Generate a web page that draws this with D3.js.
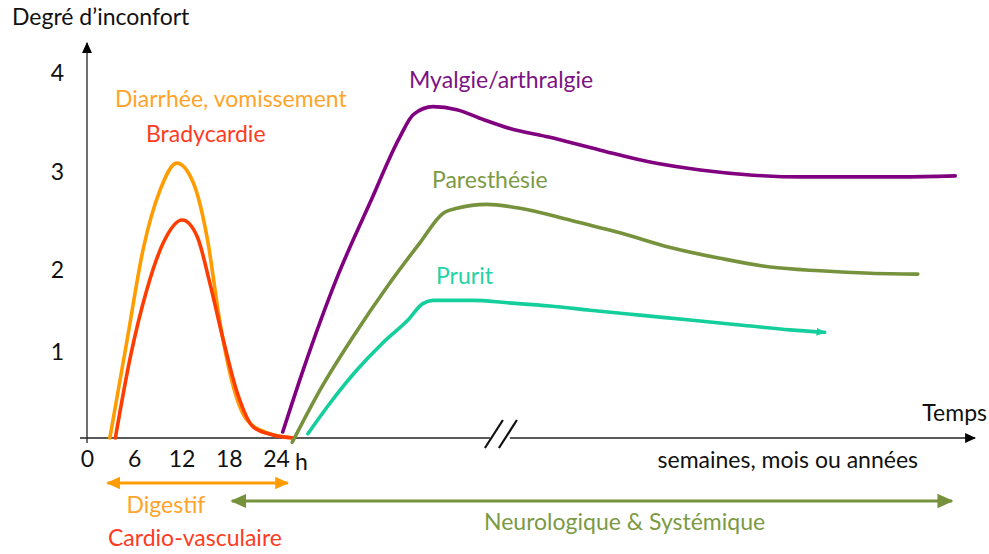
<!DOCTYPE html>
<html>
<head>
<meta charset="utf-8">
<script src="https://cdn.jsdelivr.net/npm/d3@7"></script>
<style>
	body { margin: 0; background: #fff; }
	text { font-family: Lato, 'Open Sans', sans-serif; }
</style>
</head>
<body>
<div class="canvas"></div>
<script>
// tick labels
const hourTicks = [0, 6, 12, 18, 24];
const levelTicks = [1, 2, 3, 4];

// acute phase, x in hours
const diarrheeHours = [2.9, 5.1, 7.1, 9.3, 11.4, 13.5, 15.3, 16.9, 18.6, 20.3, 22.9, 26.2];
const diarrheeLevel = [0, 1.15, 2.2, 2.82, 3.09, 2.89, 2.31, 1.35, 0.59, 0.21, 0.06, 0];
const bradyHours = [3.6, 5.5, 7.6, 9.7, 12.1, 14.0, 15.6, 17.3, 19.1, 21.1, 23.6, 26.2];
const bradyLevel = [0, 0.94, 1.76, 2.28, 2.51, 2.34, 1.84, 1.15, 0.52, 0.13, 0.035, 0];

// chronic phase, x in relative time (weeks, months or years)
const myalgieTime = [0.4, 3.4, 8.4, 13.2, 17.6, 19.6, 22.5, 26.0, 29.9, 33.8, 39.7, 47.1, 54.4, 61.8, 69.1, 76.5, 83.8, 91.2, 99.3];
const myalgieLevel = [0.07, 0.79, 1.91, 2.68, 3.35, 3.58, 3.66, 3.63, 3.53, 3.44, 3.35, 3.22, 3.10, 3.02, 2.97, 2.95, 2.95, 2.95, 2.96];
const paresthesieTime = [1.8, 5.9, 10.7, 15.7, 20.6, 24.0, 26.0, 30.4, 35.3, 42.6, 50.0, 57.4, 64.7, 72.1, 79.4, 86.8, 93.8];
const paresthesieLevel = [-0.05, 0.56, 1.18, 1.79, 2.28, 2.58, 2.63, 2.67, 2.63, 2.51, 2.38, 2.23, 2.12, 2.03, 1.99, 1.96, 1.95];
const pruritTime = [4.1, 7.4, 11.3, 15.1, 18.7, 21.0, 22.5, 28.4, 33.4, 39.7, 45.6, 52.9, 60.3, 67.6, 75.0, 80.1];
const pruritLevel = [0.05, 0.41, 0.79, 1.11, 1.38, 1.59, 1.63, 1.63, 1.60, 1.56, 1.51, 1.45, 1.39, 1.33, 1.27, 1.24];

const breakAt = 31.9;

const colors = {
	orange: '#ff9c00', red: '#ff3d00', purple: '#800080', olive: '#76923c', teal: '#14cf9c',
	orangeText: '#ffa42a', redText: '#ff3a22', purpleText: '#7b1385', oliveText: '#7c9a45', tealText: '#22d3a4'
};

const svg = d3.select('.canvas')
	.append('svg')
	.attr('width', 989)
	.attr('height', 554);

const defs = svg.append('defs');
function marker(id, color, size) {
	defs.append('marker')
		.attr('id', id)
		.attr('viewBox', '0 -5 10 10')
		.attr('refX', 9)
		.attr('refY', 0)
		.attr('markerUnits', 'userSpaceOnUse')
		.attr('markerWidth', size)
		.attr('markerHeight', size)
		.attr('orient', 'auto-start-reverse')
		.append('path')
		.attr('d', 'M0,-4.5L10,0L0,4.5Z')
		.attr('fill', color);
}
marker('arrBlack', '#000', 11);
marker('arrOrange', colors.orange, 14);
marker('arrOlive', colors.olive, 16);
marker('arrTeal', colors.teal, 9);

// scales
const originX = 87, originY = 438;
const xHours = d3.scaleLinear().domain([0, 24]).range([originX, 276]);
const xLong = d3.scaleLinear().domain([0, 100]).range([280, 960]);
const y = d3.scaleLinear().domain([0, 1, 2, 3, 4]).range([originY, 352, 270, 172, 73]);

// axes lines
svg.append('line')
	.attr('x1', originX).attr('y1', originY + 5)
	.attr('x2', originX).attr('y2', 43)
	.attr('stroke', '#222').attr('stroke-width', 1.3)
	.attr('marker-end', 'url(#arrBlack)');

svg.append('line')
	.attr('x1', 80).attr('y1', originY)
	.attr('x2', xLong(breakAt) - 7).attr('y2', originY)
	.attr('stroke', '#222').attr('stroke-width', 1.3);
svg.append('line')
	.attr('x1', xLong(breakAt) + 13).attr('y1', originY)
	.attr('x2', 975).attr('y2', originY)
	.attr('stroke', '#222').attr('stroke-width', 1.3)
	.attr('marker-end', 'url(#arrBlack)');

// break marks
[-6, 8].forEach(dx => {
	svg.append('line')
		.attr('x1', xLong(breakAt) + dx - 6).attr('y1', originY + 10)
		.attr('x2', xLong(breakAt) + dx + 12).attr('y2', originY - 18)
		.attr('stroke', '#111').attr('stroke-width', 2.2);
});

// tick labels
const xAxis = d3.axisBottom(xHours)
	.tickValues(hourTicks)
	.tickSize(0)
	.tickPadding(13);
const xAxisGroup = svg.append('g')
	.attr('transform', `translate(0,${originY})`)
	.call(xAxis);
xAxisGroup.select('.domain').remove();
xAxisGroup.selectAll('text')
	.attr('font-size', 23)
	.attr('fill', '#111')
	.style('font-family', 'Lato, sans-serif');
svg.append('text')
	.attr('x', xHours(24) + 19).attr('y', 470)
	.attr('font-size', 23).attr('fill', '#111')
	.text('h');

const yAxis = d3.axisLeft(y)
	.tickValues(levelTicks)
	.tickFormat(d3.format('d'))
	.tickSize(0)
	.tickPadding(23);
const yAxisGroup = svg.append('g')
	.attr('transform', `translate(${originX},0)`)
	.call(yAxis);
yAxisGroup.select('.domain').remove();
yAxisGroup.selectAll('text')
	.attr('font-size', 23)
	.attr('fill', '#111')
	.style('font-family', 'Lato, sans-serif');

// curves
const lineHours = d3.line().x(d => xHours(d[0])).y(d => y(d[1])).curve(d3.curveMonotoneX);
const lineLong = d3.line().x(d => xLong(d[0])).y(d => y(d[1])).curve(d3.curveMonotoneX);

function draw(gen, xs, ys, color, end) {
	const p = svg.append('path')
		.attr('d', gen(d3.zip(xs, ys)))
		.attr('fill', 'none')
		.attr('stroke', color)
		.attr('stroke-width', 3.6)
		.attr('stroke-linecap', 'round')
		.attr('stroke-linejoin', 'round');
	if (end) p.attr('marker-end', end);
}
draw(lineHours, diarrheeHours, diarrheeLevel, colors.orange);
draw(lineHours, bradyHours, bradyLevel, colors.red);
draw(lineLong, myalgieTime, myalgieLevel, colors.purple);
draw(lineLong, paresthesieTime, paresthesieLevel, colors.olive);
draw(lineLong, pruritTime, pruritLevel, colors.teal, 'url(#arrTeal)');

// span arrows
svg.append('line')
	.attr('x1', xHours(2.6)).attr('y1', 483)
	.attr('x2', xHours(25.5)).attr('y2', 483)
	.attr('stroke', colors.orange).attr('stroke-width', 3)
	.attr('marker-start', 'url(#arrOrange)')
	.attr('marker-end', 'url(#arrOrange)');
svg.append('line')
	.attr('x1', xHours(18.4)).attr('y1', 501)
	.attr('x2', xLong(98.8)).attr('y2', 501)
	.attr('stroke', colors.olive).attr('stroke-width', 3.2)
	.attr('marker-start', 'url(#arrOlive)')
	.attr('marker-end', 'url(#arrOlive)');

// labels
function label(x, yy, txt, color, anchor) {
	svg.append('text')
		.attr('x', x).attr('y', yy)
		.attr('font-size', 23)
		.attr('fill', color)
		.attr('text-anchor', anchor || 'start')
		.text(txt);
}
label(12, 25, 'Degré d’inconfort', '#111');
label(115, 107, 'Diarrhée, vomissement', colors.orangeText);
label(146, 142, 'Bradycardie', colors.redText);
label(409, 88, 'Myalgie/arthralgie', colors.purpleText);
label(432, 188, 'Paresthésie', colors.oliveText);
label(436, 284, 'Prurit', colors.tealText);
label(987, 421, 'Temps', '#111', 'end');
label(918, 468, 'semaines, mois ou années', '#111', 'end');
label(166, 513, 'Digestif', colors.orangeText, 'middle');
label(108, 546, 'Cardio-vasculaire', colors.redText);
label(484, 530, 'Neurologique & Systémique', colors.oliveText);
</script>
</body>
</html>
